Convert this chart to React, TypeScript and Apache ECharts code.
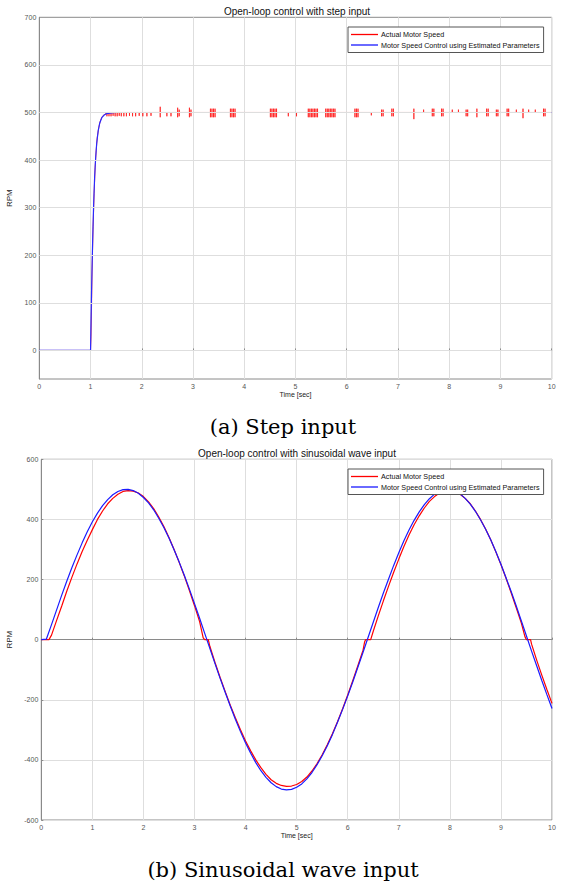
import React, { useEffect, useRef } from "react";
import * as echarts from "echarts";

// ---------- Step input chart data ----------
const stepTime = [0, 1, 1.02, 1.04, 1.06, 1.08, 1.1, 1.12, 1.15, 1.18, 1.22, 1.26, 1.3, 1.4, 1.5, 10];
const stepEstimatedRpm = [0, 0, 125, 225, 305, 365, 405, 435, 462, 478, 489, 494, 497, 499, 500, 500];

const stepActualRiseTime = [0, 1, 1.01, 1.02, 1.03, 1.05, 1.07, 1.09, 1.11, 1.13, 1.16, 1.19, 1.22, 1.25, 1.3];
const stepActualRiseRpm = [0, 0, 30, 95, 165, 260, 330, 385, 420, 447, 468, 482, 490, 494, 498];

// spikes of the measured speed around the 500 RPM steady state: time, low, high
const spikeTime = [
  1.32, 1.36, 1.4, 1.44, 1.48, 1.52, 1.56, 1.6, 1.65, 1.7, 1.76, 1.82, 1.88, 1.95, 2.02, 2.1, 2.18,
  2.36, 2.49, 2.57, 2.7, 2.73, 2.93, 2.96,
  3.34, 3.37, 3.4, 3.43, 3.73, 3.76, 3.79, 3.82,
  4.51, 4.54, 4.57, 4.6, 4.63, 4.86, 5.02,
  5.25, 5.28, 5.31, 5.34, 5.37, 5.4, 5.43,
  5.59, 5.62, 5.65, 5.68, 5.71, 5.74, 5.77,
  6.16, 6.19, 6.22, 6.48, 6.68, 6.71, 6.88, 6.91,
  7.31, 7.5, 7.67, 7.7, 7.85, 7.88, 8.06, 8.18, 8.33, 8.36, 8.54,
  8.73, 8.76, 8.92, 8.95, 9.13, 9.16, 9.31, 9.44, 9.55, 9.68, 9.84, 9.87,
];
const spikeLow = [
  492, 492, 492, 493, 492, 492, 493, 492, 492, 492, 493, 492, 492, 493, 492, 492, 493,
  490, 492, 492, 490, 492, 490, 492,
  490, 490, 490, 490, 490, 490, 490, 490,
  490, 490, 490, 490, 490, 492, 492,
  490, 490, 490, 490, 490, 490, 490,
  490, 490, 490, 490, 490, 490, 490,
  490, 490, 490, 494, 492, 492, 492, 492,
  486, 500, 492, 492, 492, 492, 500, 500, 492, 492, 490,
  492, 492, 492, 492, 492, 492, 500, 488, 500, 500, 492, 492,
];
const spikeHigh = [
  500, 500, 500, 500, 500, 500, 500, 500, 500, 500, 500, 500, 500, 500, 500, 500, 500,
  512, 500, 500, 510, 506, 510, 506,
  508, 508, 508, 508, 508, 508, 508, 508,
  508, 508, 508, 508, 508, 500, 500,
  508, 508, 508, 508, 508, 508, 508,
  508, 508, 508, 508, 508, 508, 508,
  508, 508, 508, 500, 506, 506, 508, 508,
  508, 506, 508, 508, 508, 508, 506, 506, 506, 506, 508,
  508, 508, 506, 506, 508, 508, 506, 508, 506, 506, 508, 508,
];
const stepGridRpm = [0, 100, 200, 300, 400, 500, 600];

// ---------- Sinusoidal input chart data ----------
const sineTime = [
  0, 0.1, 0.2, 0.3, 0.4, 0.5, 0.6, 0.7, 0.8, 0.9, 1, 1.1, 1.2, 1.3, 1.4, 1.5, 1.6, 1.7, 1.8, 1.9,
  2, 2.1, 2.2, 2.3, 2.4, 2.5, 2.6, 2.7, 2.8, 2.9, 3, 3.1, 3.2, 3.3, 3.4, 3.5, 3.6, 3.7, 3.8, 3.9,
  4, 4.1, 4.2, 4.3, 4.4, 4.5, 4.6, 4.7, 4.8, 4.9, 5, 5.1, 5.2, 5.3, 5.4, 5.5, 5.6, 5.7, 5.8, 5.9,
  6, 6.1, 6.2, 6.3, 6.4, 6.5, 6.6, 6.7, 6.8, 6.9, 7, 7.1, 7.2, 7.3, 7.4, 7.5, 7.6, 7.7, 7.8, 7.9,
  8, 8.1, 8.2, 8.3, 8.4, 8.5, 8.6, 8.7, 8.8, 8.9, 9, 9.1, 9.2, 9.3, 9.4, 9.5, 9.6, 9.7, 9.8, 9.9, 10,
];
const sineEstimatedRpm = [
  0, 2, 50, 99, 148, 195, 240, 282, 322, 359, 392, 421, 446, 466, 482, 493, 499, 500, 496, 487,
  473, 455, 432, 404, 373, 338, 299, 258, 214, 168, 120, 71, 21, -29, -79, -128, -175, -221, -265, -306,
  -344, -378, -409, -436, -458, -476, -489, -497, -500, -498, -491, -480, -463, -442, -416, -386, -353, -316, -275, -232,
  -187, -140, -91, -42, 8, 58, 108, 156, 202, 247, 289, 329, 365, 397, 425, 449, 469, 484, 494, 499,
  499, 495, 485, 470, 451, 427, 399, 367, 332, 293, 251, 206, 160, 112, 62, 12, -38, -87, -136, -183, -229,
];

const sineActualTime = [
  0, 0.1, 0.15, 0.2, 0.3, 0.4, 0.5, 0.6, 0.7, 0.8, 0.9, 1, 1.1, 1.2, 1.3, 1.4, 1.5, 1.6, 1.7, 1.8, 1.9,
  2, 2.1, 2.2, 2.3, 2.4, 2.5, 2.6, 2.7, 2.8, 2.9, 3, 3.1, 3.17, 3.2, 3.27, 3.3, 3.4, 3.5, 3.6, 3.7, 3.8, 3.9,
  4, 4.1, 4.2, 4.3, 4.4, 4.5, 4.6, 4.7, 4.8, 4.9, 5, 5.1, 5.2, 5.3, 5.4, 5.5, 5.6, 5.7, 5.8, 5.9,
  6, 6.1, 6.2, 6.3, 6.33, 6.35, 6.45, 6.5, 6.6, 6.7, 6.8, 6.9, 7, 7.1, 7.2, 7.3, 7.4, 7.5, 7.6, 7.7, 7.8, 7.9,
  8, 8.1, 8.2, 8.3, 8.4, 8.5, 8.6, 8.7, 8.8, 8.9, 9, 9.1, 9.2, 9.3, 9.4, 9.47, 9.5, 9.58, 9.6, 9.7, 9.8, 9.9, 10,
];
const sineActualRpm = [
  0, 0, 0, 15, 64, 112, 162, 208, 252, 293, 331, 366, 400, 428, 452, 470, 484, 493, 496, 494, 488,
  476, 458, 436, 408, 376, 340, 300, 257, 212, 163, 113, 60, 6, 0, 0, -22, -75, -125, -172, -218, -260, -300,
  -337, -370, -400, -426, -448, -466, -478, -485, -488, -487, -482, -472, -457, -437, -412, -383, -350, -313, -273, -230,
  -184, -136, -86, -35, -8, 0, 0, 28, 80, 130, 178, 224, 268, 310, 348, 382, 412, 438, 460, 476, 488, 494,
  495, 492, 484, 470, 452, 428, 400, 368, 332, 292, 250, 204, 156, 106, 55, 10, 0, 0, -15, -68, -118, -166, -212,
];

const xTicks = ["0", "1", "2", "3", "4", "5", "6", "7", "8", "9", "10"];

const seriesNames = ["Actual Motor Speed", "Motor Speed Control using Estimated Parameters"];
const titles = ["Open-loop control with step input", "Open-loop control with sinusoidal wave input"];
const captions = ["(a) Step input", "(b) Sinusoidal wave input"];

const zip = (xs: number[], ys: number[]) => xs.map((x, i) => [x, ys[i]]);

function buildStepActual() {
  const pts: number[][] = zip(stepActualRiseTime, stepActualRiseRpm);
  spikeTime.forEach((t, i) => {
    pts.push([t, 500], [t, spikeHigh[i]], [t, spikeLow[i]], [t, 500]);
  });
  pts.push([10, 500]);
  return pts;
}

const FONT = "'Liberation Sans', Arial, Helvetica, sans-serif";
const SERIF = "'DejaVu Serif', 'Liberation Serif', serif";
const GRID_GREY = "#dedede";
const AXIS_GREY = "#8a8a8a";

function xAxis(gridIndex: number) {
  return {
    type: "value",
    gridIndex,
    min: 0,
    max: 10,
    interval: 1,
    name: "Time [sec]",
    nameLocation: "middle",
    nameGap: 12,
    nameTextStyle: { fontSize: 7, color: "#222", fontFamily: FONT },
    axisLine: { show: true, lineStyle: { color: AXIS_GREY, width: 1 } },
    axisTick: { show: true, inside: true, length: 2, lineStyle: { color: AXIS_GREY } },
    axisLabel: {
      fontSize: 7,
      color: "#555",
      fontFamily: FONT,
      margin: 4,
      formatter: (v: number) => xTicks[Math.round(v)] ?? String(v),
    },
    splitLine: { show: true, lineStyle: { color: GRID_GREY, width: 1 } },
  };
}

function yAxisCommon(gridIndex: number) {
  return {
    type: "value",
    gridIndex,
    name: "RPM",
    nameLocation: "middle",
    nameGap: 16,
    nameTextStyle: { fontSize: 8, color: "#222", fontFamily: FONT },
    axisLine: { show: true, lineStyle: { color: AXIS_GREY, width: 1 } },
  };
}

function legend(top: number) {
  return {
    orient: "vertical",
    left: 348,
    top,
    icon: "rect",
    itemWidth: 27,
    itemHeight: 1.3,
    itemGap: 1.5,
    padding: [3, 4, 3, 3],
    backgroundColor: "#fff",
    borderColor: "#555",
    borderWidth: 1,
    borderRadius: 0,
    textStyle: { fontSize: 7.2, color: "#111", fontFamily: FONT, lineHeight: 9, padding: [0, 0, 0, -2] },
    data: seriesNames,
  };
}

const gridCommon = { show: true, borderColor: AXIS_GREY, borderWidth: 1, backgroundColor: "#fff", outerBoundsMode: "none", containLabel: false };

export default function App() {
  const ref = useRef<HTMLDivElement>(null);

  useEffect(() => {
    if (!ref.current) return;
    const chart = echarts.init(ref.current, undefined, { renderer: "svg" });
    const lineBase = { type: "line", symbol: "none", showSymbol: false, smooth: false };
    chart.setOption({
      animation: false,
      backgroundColor: "#fff",
      grid: [
        { ...gridCommon, left: 39.3, top: 17.3, width: 512.4, height: 361.7 },
        { ...gridCommon, left: 41.3, top: 459.3, width: 510.7, height: 360.7 },
      ],
      xAxis: [xAxis(0), xAxis(1)],
      yAxis: [
        {
          ...yAxisCommon(0),
          min: -60,
          max: 700,
          interval: 20,
          axisTick: { show: false },
          axisLabel: {
            fontSize: 7,
            color: "#555",
            fontFamily: FONT,
            margin: 3,
            formatter: (v: number) => (Math.round(v) % 100 === 0 ? String(Math.round(v)) : ""),
          },
          splitLine: { show: false },
        },
        {
          ...yAxisCommon(1),
          min: -600,
          max: 600,
          interval: 200,
          axisTick: { show: true, inside: true, length: 2, lineStyle: { color: AXIS_GREY } },
          axisLabel: { fontSize: 7, color: "#555", fontFamily: FONT, margin: 3 },
          splitLine: { show: true, lineStyle: { color: GRID_GREY, width: 1 } },
        },
      ],
      legend: [legend(27), legend(469)],
      series: [
        {
          type: "line",
          xAxisIndex: 0,
          yAxisIndex: 0,
          data: [],
          silent: true,
          markLine: {
            symbol: "none",
            silent: true,
            animation: false,
            label: { show: false },
            lineStyle: { color: GRID_GREY, type: "solid", width: 1 },
            data: stepGridRpm.map((v) => ({ yAxis: v })),
          },
        },
        { ...lineBase, name: seriesNames[0], xAxisIndex: 0, yAxisIndex: 0, data: buildStepActual(), lineStyle: { color: "#ff2020", width: 0.8 }, itemStyle: { color: "#ff0000" } },
        { ...lineBase, name: seriesNames[1], xAxisIndex: 0, yAxisIndex: 0, data: zip(stepTime, stepEstimatedRpm), lineStyle: { color: "#2a2aff", width: 1.2 }, itemStyle: { color: "#1a1aff" } },
        { ...lineBase, name: seriesNames[0], xAxisIndex: 1, yAxisIndex: 1, data: zip(sineActualTime, sineActualRpm), lineStyle: { color: "#ff0000", width: 1.2 }, itemStyle: { color: "#ff0000" } },
        { ...lineBase, name: seriesNames[1], xAxisIndex: 1, yAxisIndex: 1, data: zip(sineTime, sineEstimatedRpm), lineStyle: { color: "#1a1aff", width: 1.2 }, itemStyle: { color: "#1a1aff" } },
      ],
      graphic: [
        { type: "text", x: 297, y: 11.5, style: { text: titles[0], fontSize: 10, fontFamily: FONT, fill: "#111", align: "center", verticalAlign: "middle", textAlign: "center", textVerticalAlign: "middle" } },
        { type: "text", x: 297, y: 453, style: { text: titles[1], fontSize: 10, fontFamily: FONT, fill: "#111", align: "center", verticalAlign: "middle", textAlign: "center", textVerticalAlign: "middle" } },
        { type: "text", x: 283, y: 427, style: { text: captions[0], fontSize: 21, fontFamily: SERIF, fill: "#000", align: "center", verticalAlign: "middle", textAlign: "center", textVerticalAlign: "middle" } },
        { type: "text", x: 283, y: 870, style: { text: captions[1], fontSize: 21, fontFamily: SERIF, fill: "#000", align: "center", verticalAlign: "middle", textAlign: "center", textVerticalAlign: "middle" } },
      ],
    });
    return () => chart.dispose();
  }, []);

  return (
    <div
      ref={ref}
      style={{ position: "fixed", left: 0, top: 0, width: 563, height: 886, background: "#fff" }}
    />
  );
}
